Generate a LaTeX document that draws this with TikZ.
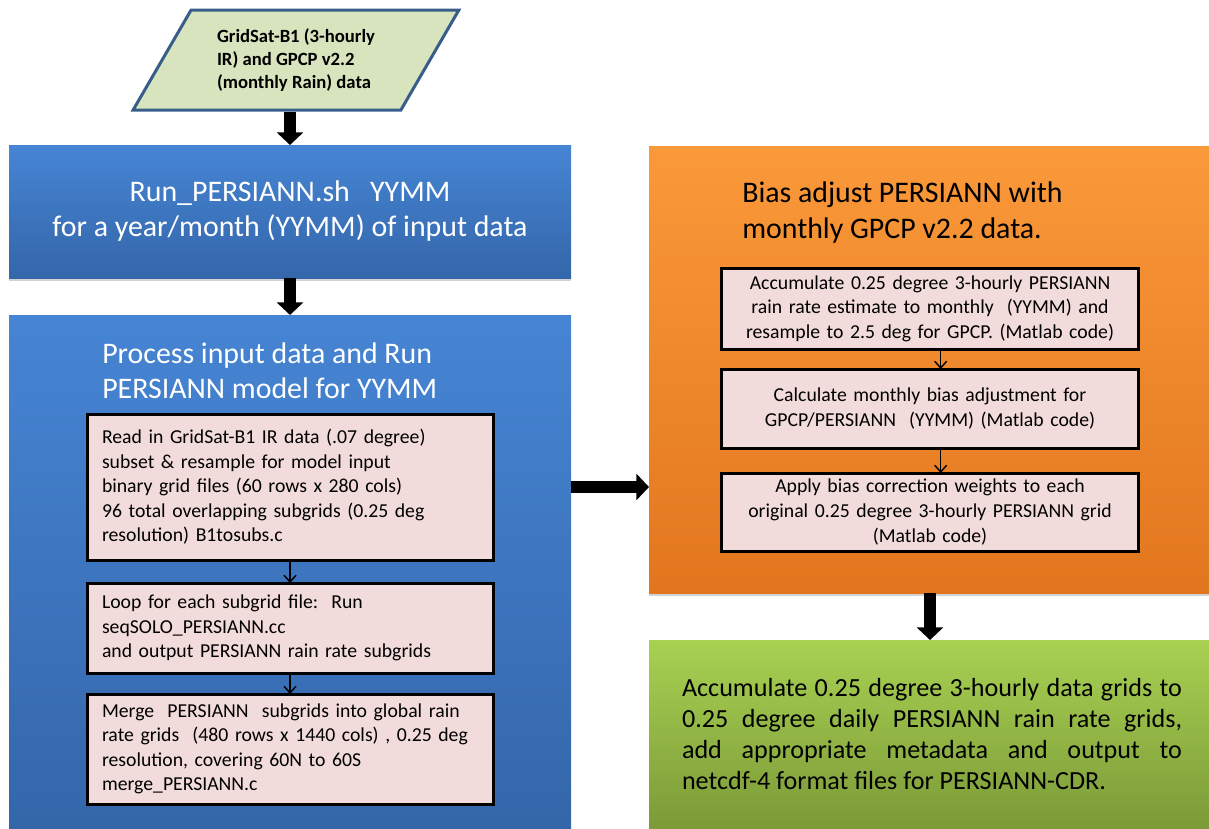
\documentclass[tikz,border=0pt]{standalone}
\usepackage{fontspec}
\setmainfont{Carlito}
\usepackage{tikz}
\usetikzlibrary{shapes.geometric, arrows.meta, positioning, shadows}
\definecolor{inputfill}{RGB}{215,228,189}
\definecolor{inputborder}{RGB}{56,93,138}
\definecolor{bluetop}{RGB}{70,133,212}
\definecolor{bluebot}{RGB}{52,102,170}
\definecolor{orangetop}{RGB}{250,153,58}
\definecolor{orangebot}{RGB}{226,118,30}
\definecolor{greentop}{RGB}{168,209,82}
\definecolor{greenbot}{RGB}{124,154,56}
\definecolor{stepfill}{RGB}{242,220,219}
\newcommand{\fillline}[1]{\makebox[\linewidth][s]{#1}}
\tikzset{
  panel/.style={rectangle, minimum width=424.5pt, outer sep=0pt,
    drop shadow={shadow xshift=0pt, shadow yshift=-2.5pt, opacity=0.35}},
  bluepanel/.style={panel, minimum width=421.5pt, top color=bluetop,
    bottom color=bluebot, text=white, align=center,
    font=\fontsize{22.4}{26.25}\selectfont},
  orangepanel/.style={panel, top color=orangetop, bottom color=orangebot},
  greenpanel/.style={panel, top color=greentop, bottom color=greenbot,
    text width=375pt, align=justify, font=\fontsize{19.6}{23.25}\selectfont},
  paneltitle/.style={align=left, inner sep=0pt,
    font=\fontsize{22.4}{26.5}\selectfont},
  stepbox/.style={rectangle, draw=black, line width=2.25pt, fill=stepfill,
    minimum width=304.5pt, outer sep=0pt, inner xsep=11.25pt,
    font=\fontsize{14.8}{18.4}\selectfont},
  leftstep/.style={stepbox, text width=282pt, align=left},
  midstep/.style={stepbox, text width=290pt, align=center},
  datainput/.style={trapezium, trapezium left angle=57, trapezium right angle=123,
    trapezium stretches=true, minimum width=244.5pt, minimum height=75pt,
    draw=inputborder, line width=2.25pt, fill=inputfill, align=left,
    font=\fontsize{14}{17}\selectfont\bfseries},
  fatarrow/.style={-{Triangle[length=9.5pt, width=19.5pt]}, line width=9pt, black},
  thinarrow/.style={-{Straight Barb[length=5pt, width=9pt]}, line width=1.1pt, black},
}
\begin{document}
\begin{tikzpicture}[x=0.75pt, y=-0.75pt]
  \useasboundingbox (0,0) rectangle (1209,828);
  % source data
  \node[datainput] (input) at (296,60)
    {GridSat-B1 (3-hourly\\IR) and GPCP v2.2\\(monthly Rain) data};
  % left column
  \node[bluepanel, minimum height=99.75pt] (run) at (290,211.5)
    {Run\_PERSIANN.sh\ \ \ YYMM\\for a year/month (YYMM) of input data};
  \node[bluepanel, minimum height=384.75pt] (proc) at (290,571.5) {};
  \node[paneltitle, text=white, anchor=west] (proctitle) at (102,371)
    {Process input data and Run\\PERSIANN model for YYMM};
  \node[leftstep, minimum height=109.5pt] (readin) at (290,487)
    {Read in GridSat-B1 IR data (.07 degree)\\subset \& resample for model input\\
     binary grid files (60 rows x 280 cols)\\96 total overlapping subgrids (0.25 deg\\
     resolution) B1tosubs.c};
  \node[leftstep, minimum height=67.5pt, below=17.25pt of readin] (loop)
    {Loop for each subgrid file:\ \ Run\\seqSOLO\_PERSIANN.cc\\
     and output PERSIANN rain rate subgrids};
  \node[leftstep, minimum height=82.5pt, below=15.75pt of loop] (merge)
    {Merge\ \ PERSIANN\ \ subgrids into global rain\\
     rate grids\ \ (480 rows x 1440 cols) , 0.25 deg\\
     resolution, covering 60N to 60S\\merge\_PERSIANN.c};
  % right column
  \node[orangepanel, minimum height=335.25pt] (bias) at (932,369.5) {};
  \node[paneltitle, text=black, anchor=west] (biastitle) at (742,212.5)
    {Bias adjust PERSIANN with\\monthly GPCP v2.2 data.};
  \node[midstep, minimum height=60.75pt] (accum) at (930,308.5)
    {Accumulate 0.25 degree 3-hourly PERSIANN\\
     rain rate estimate to monthly\ \ (YYMM) and\\
     resample to 2.5 deg for GPCP. (Matlab code)};
  \node[midstep, minimum height=59.25pt, below=15pt of accum] (calc)
    {Calculate monthly bias adjustment for\\GPCP/PERSIANN\ \ (YYMM) (Matlab code)};
  \node[midstep, minimum height=58.5pt, below=18.75pt of calc] (apply)
    {Apply bias correction weights to each\\
     original 0.25 degree 3-hourly PERSIANN grid\\(Matlab code)};
  \node[greenpanel, minimum height=141pt] (daily) at (932,734)
    {\fillline{Accumulate 0.25 degree 3-hourly data grids to}\\
     \fillline{0.25 degree daily PERSIANN rain rate grids,}\\
     \fillline{add appropriate metadata and output to}\\
     netcdf-4 format files for PERSIANN-CDR.};
  % connectors
  \draw[fatarrow] (run.north |- input.south) -- (run.north);
  \draw[fatarrow] (run.south) -- (proc.north);
  \draw[fatarrow] (proc.east |- readin) -- (bias.west |- readin);
  \draw[fatarrow] (bias.south -| accum) -- (daily.north -| accum);
  \draw[thinarrow] (readin) -- (loop);
  \draw[thinarrow] (loop) -- (merge);
  \draw[thinarrow] ([xshift=8pt]accum.south) -- ([xshift=8pt]calc.north);
  \draw[thinarrow] ([xshift=8pt]calc.south) -- ([xshift=8pt]apply.north);
\end{tikzpicture}
\end{document}
